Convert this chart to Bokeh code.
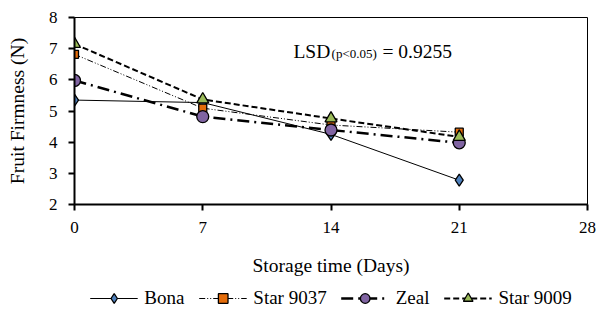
from bokeh.plotting import figure
from bokeh.layouts import column
from bokeh.models import Legend, LegendItem, FixedTicker, Range1d
from bokeh.embed import file_html
from bokeh.resources import INLINE
from bokeh.core.properties import value

# ---- data ----
days = [0, 7, 14, 21]
bona = [5.35, 5.27, 4.25, 2.78]
star9037 = [6.82, 5.09, 4.55, 4.32]
zeal = [5.98, 4.82, 4.39, 3.98]
star9009 = [7.15, 5.37, 4.76, 4.17]
x_ticks = [0, 7, 14, 21, 28]
y_ticks = [2, 3, 4, 5, 6, 7, 8]
series_names = ["Bona", "Star 9037", "Zeal", "Star 9009"]

FONT = "Liberation Serif"

p = figure(width=598, height=286, output_backend="svg", toolbar_location=None,
           x_range=Range1d(0, 28), y_range=Range1d(2, 8),
           min_border_left=74, min_border_right=11, min_border_top=17, min_border_bottom=82)
p.background_fill_color = "white"
p.border_fill_color = "white"
p.outline_line_color = "black"
p.outline_line_width = 1
p.grid.visible = False

for ax in (p.xaxis[0], p.yaxis[0]):
    ax.axis_line_width = 2
    ax.axis_line_color = "black"
    ax.major_tick_line_width = 2
    ax.major_tick_line_color = "black"
    ax.major_tick_out = 6
    ax.major_tick_in = 0
    ax.minor_tick_line_color = None
    ax.major_label_text_font = FONT
    ax.major_label_text_font_size = "17px"
    ax.major_label_text_color = "black"
    ax.axis_label_text_font = FONT
    ax.axis_label_text_font_size = "19.5px"
    ax.axis_label_text_font_style = "normal"
    ax.axis_label_text_color = "black"

p.xaxis.ticker = FixedTicker(ticks=x_ticks)
p.yaxis.ticker = FixedTicker(ticks=y_ticks)
p.yaxis.major_label_standoff = 11
p.xaxis.major_label_standoff = 11
p.xaxis.axis_label = "Storage time (Days)"
p.xaxis.axis_label_standoff = 19
p.yaxis.axis_label = "Fruit Firmness (N)"
p.yaxis.axis_label_standoff = 18

styles = [
    dict(data=bona, dash="solid", lw=1, marker="diamond", color="#4F81BD", size=12),
    dict(data=star9037, dash="6 2 1 2 1 2", lw=1, marker="square", color="#E46C0A", size=8),
    dict(data=zeal, dash="12 5 2 5", lw=2.5, marker="circle", color="#8064A2", size=12),
    dict(data=star9009, dash="6 3", lw=2, marker="triangle", color="#9BBB59", size=12),
]

for st in styles:
    p.line(days, st["data"], line_color="black", line_width=st["lw"], line_dash=st["dash"])
    p.scatter(days, st["data"], marker=st["marker"], size=st["size"],
              fill_color=st["color"], line_color="black", line_width=1.3)

# LSD annotation
p.text(x=[11.95], y=[6.92], text=["LSD"], text_font=value(FONT), text_font_size="19.5px",
       text_baseline="alphabetic", text_color="black")
p.text(x=[14.03], y=[6.83], text=["(p<0.05)"], text_font=value(FONT), text_font_size="13px",
       text_baseline="alphabetic", text_color="black")
p.text(x=[16.81], y=[6.92], text=["= 0.9255"], text_font=value(FONT), text_font_size="19.5px",
       text_baseline="alphabetic", text_color="black")

# ---- legend strip (separate small figure below; its renderers sit outside its view) ----
lg = figure(width=598, height=23, output_backend="svg", toolbar_location=None,
            x_range=Range1d(100, 101), y_range=Range1d(100, 101),
            x_axis_location=None, y_axis_location=None,
            min_border_left=0, min_border_right=0, min_border_top=0, min_border_bottom=0)
lg.grid.visible = False
lg.outline_line_color = None
lg.background_fill_color = "white"
lg.border_fill_color = "white"

items = []
for name, st in zip(series_names, styles):
    lr = lg.line(days, st["data"], line_color="black", line_width=st["lw"], line_dash=st["dash"])
    sr = lg.scatter(days, st["data"], marker=st["marker"], size=st["size"],
                    fill_color=st["color"], line_color="black", line_width=1.3)
    items.append(LegendItem(label=name, renderers=[lr, sr]))

legend = Legend(items=items, orientation="horizontal", location="center",
                glyph_width=48, glyph_height=24, label_standoff=7, spacing=14,
                padding=0, margin=0, border_line_color=None, background_fill_alpha=0,
                label_text_font=FONT, label_text_font_size="19px",
                label_text_baseline="middle", label_text_color="black")
lg.add_layout(legend, "center")

layout = column(p, lg, spacing=0)
open("out.html", "w").write(file_html(layout, INLINE))
